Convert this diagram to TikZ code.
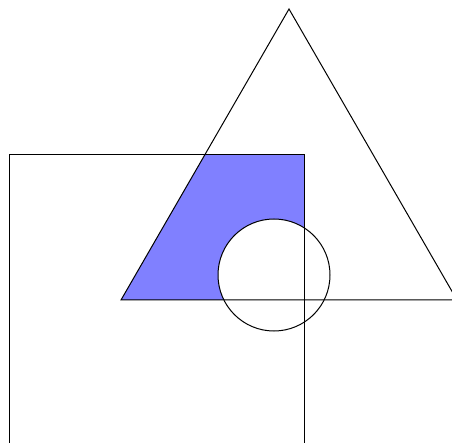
\documentclass[tikz,border=0pt]{standalone}
\usepackage{xcolor}
\usepackage{tikz}
\usetikzlibrary{calc}

\definecolor{regionblue}{RGB}{128,128,255}

\begin{document}
\begin{tikzpicture}[
    x=1pt, y=-1pt,
    outline/.style={draw=black, line width=1pt},
    region/.style={fill=regionblue}
]
  \useasboundingbox (0,0) rectangle (452,443);
  \clip (0,0) rectangle (452,443);

  \coordinate (sqA) at (9,155);
  \coordinate (sqB) at (304,470);
  \coordinate (apex) at (289,9);
  \coordinate (baseL) at (121,300);
  \coordinate (baseR) at (457,300);
  \coordinate (ctr) at (274,275);

  % shaded part: square and triangle, without the disc
  \begin{scope}
    \clip (sqA) rectangle (sqB);
    \clip (apex) -- (baseL) -- (baseR) -- cycle;
    \fill[region, even odd rule] (0,0) rectangle (452,443) (ctr) circle[radius=56];
  \end{scope}

  \draw[outline] (sqA) rectangle (sqB);
  \draw[outline] (apex) -- (baseL) -- (baseR) -- cycle;
  \draw[outline] (ctr) circle[radius=56];
\end{tikzpicture}
\end{document}
